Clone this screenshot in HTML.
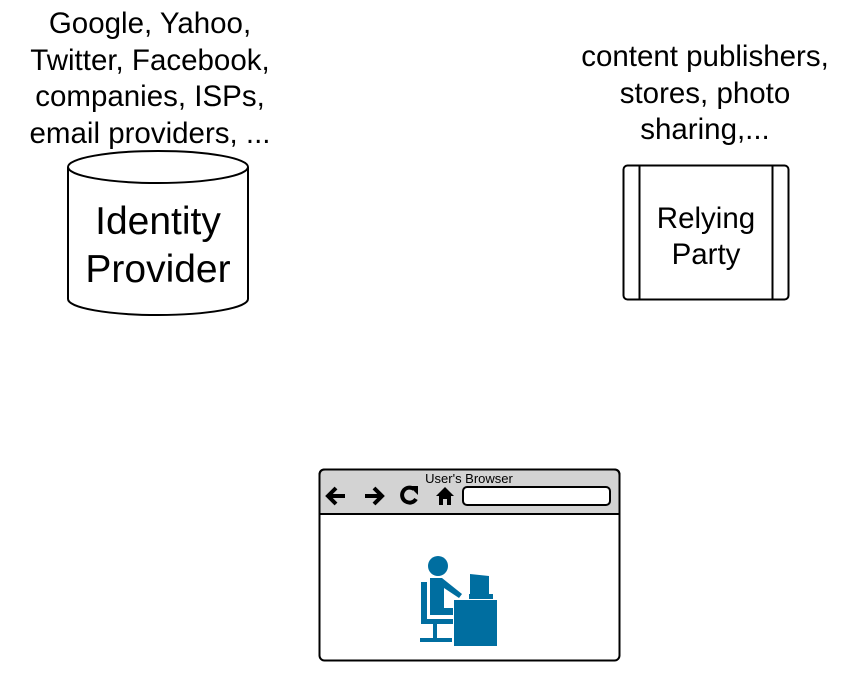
<!DOCTYPE html>
<html><head><style>
body{margin:0;width:851px;height:685px;background:#fff;overflow:hidden;font-family:"Liberation Sans",sans-serif}
.t{position:absolute;text-align:center;color:#000;white-space:nowrap}
</style></head><body>
<div class="t" style="left:0;width:300px;top:6px;font-size:29.5px;line-height:36.5px">Google, Yahoo,<br>Twitter, Facebook,<br>companies, ISPs,<br>email providers, ...</div>
<div class="t" style="left:555px;width:300px;top:39px;font-size:29.5px;line-height:36.5px">content publishers,<br>stores, photo<br>sharing,...</div>
<svg width="851" height="685" style="position:absolute;left:0;top:0">
<g stroke="#000" stroke-width="2" fill="#fff">
<path d="M68,167 L68,299 A90,16 0 0 0 248,299 L248,167"/>
<ellipse cx="158" cy="167" rx="90" ry="16"/>
<rect x="623.5" y="165.5" width="165" height="134" rx="4"/>
<line x1="639.5" y1="165.5" x2="639.5" y2="299.5"/>
<line x1="772.5" y1="165.5" x2="772.5" y2="299.5"/>
<rect x="319.5" y="469.5" width="300" height="191" rx="5"/>
<path d="M319.5,514 L319.5,475 Q319.5,469.5 325,469.5 L614,469.5 Q619.5,469.5 619.5,475 L619.5,514 Z" fill="#d3d3d3"/>
<rect x="463" y="487" width="147" height="18" rx="4"/>
</g>
<g fill="none" stroke="#000" stroke-width="4">
<path d="M345,496 L328,496 M336,488 L328,496 L336,504"/>
<path d="M365,496 L382,496 M374,488 L382,496 L374,504"/>
<path d="M414,489 A7.5,7.5 0 1 0 416,499"/>
</g>
<path d="M409,486 L418,486 L418,495 Z" fill="#000"/>
<path d="M445,487 L436,496 L439,496 L439,505 L443,505 L443,499 L447,499 L447,505 L451,505 L451,496 L454,496 Z" fill="#000"/>
<text x="469" y="483" font-size="13" text-anchor="middle" font-family="Liberation Sans">User's Browser</text>
<g fill="#006ea0">
<circle cx="438" cy="566" r="10"/>
<path d="M430,578 L442,578 L462,594 L459,598 L444,588 L444,608 L453,608 L453,615 L430,615 Z"/>
<rect x="421" y="582" width="6" height="38"/>
<rect x="421" y="619" width="32" height="5"/>
<rect x="433" y="624" width="4" height="14"/>
<rect x="420" y="638" width="32" height="4"/>
<rect x="454" y="600" width="43" height="46"/>
<path d="M470,574 L489,576 L489,594 L470,594 Z"/>
<rect x="469" y="594" width="24" height="5"/>
</g>
</svg>
<div class="t" style="left:68px;width:180px;top:198px;font-size:39px;line-height:48px">Identity<br>Provider</div>
<div class="t" style="left:640px;width:132px;top:201px;font-size:29.5px;line-height:36px">Relying<br>Party</div>
</body></html>
